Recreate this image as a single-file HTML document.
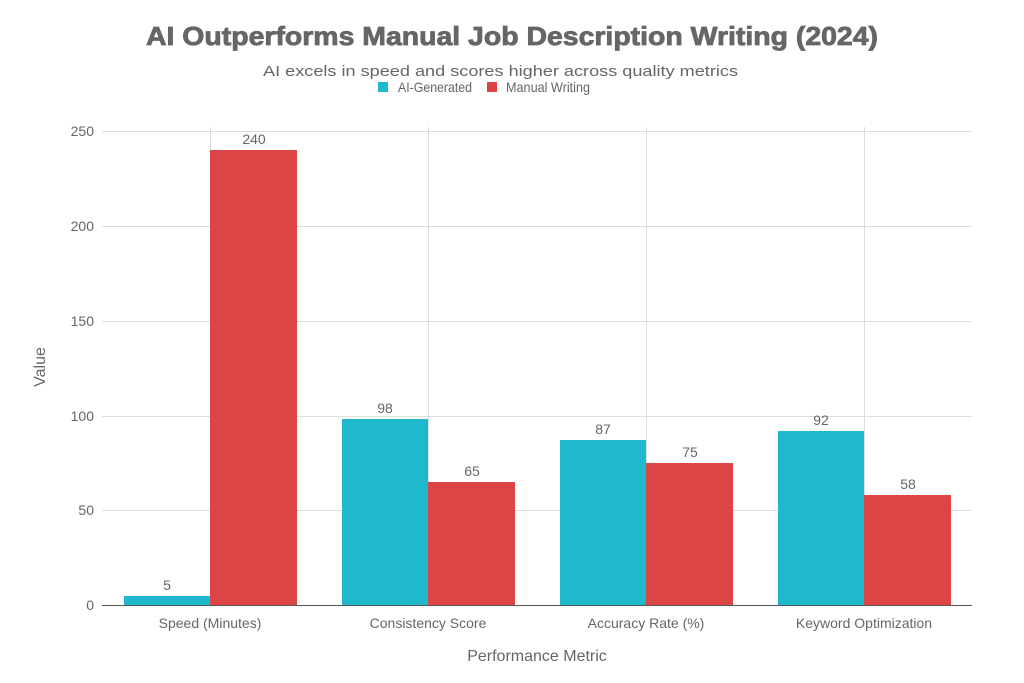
<!DOCTYPE html>
<html><head><style>body{margin:0;background:#fff}svg{display:block}text{font-family:"Liberation Sans",sans-serif}</style></head><body>
<svg width="1024" height="683" viewBox="0 0 1024 683" xmlns="http://www.w3.org/2000/svg">
<rect width="1024" height="683" fill="#fff"/>
<text x="146" y="45" font-size="26" font-weight="bold" fill="#666" stroke="#666" stroke-width="0.8" textLength="732" lengthAdjust="spacingAndGlyphs">AI Outperforms Manual Job Description Writing (2024)</text>
<text x="263" y="76" font-size="15" fill="#666" textLength="475" lengthAdjust="spacingAndGlyphs">AI excels in speed and scores higher across quality metrics</text>
<rect x="378" y="82" width="10" height="10" fill="#1fb8cd"/>
<text x="398" y="92" font-size="14" fill="#666" textLength="74" lengthAdjust="spacingAndGlyphs">AI-Generated</text>
<rect x="487" y="82" width="10" height="10" fill="#db4545"/>
<text x="506" y="92" font-size="14" fill="#666" textLength="84" lengthAdjust="spacingAndGlyphs">Manual Writing</text>
<g stroke="#ddd" stroke-width="1">
<line x1="102" x2="972" y1="131.5" y2="131.5"/>
<line x1="102" x2="972" y1="226.5" y2="226.5"/>
<line x1="102" x2="972" y1="321.5" y2="321.5"/>
<line x1="102" x2="972" y1="416.5" y2="416.5"/>
<line x1="102" x2="972" y1="510.5" y2="510.5"/>
<line x1="210.5" x2="210.5" y1="127" y2="605"/>
<line x1="428.5" x2="428.5" y1="127" y2="605"/>
<line x1="646.5" x2="646.5" y1="127" y2="605"/>
<line x1="864.5" x2="864.5" y1="127" y2="605"/>
</g>
<g fill="#1fb8cd">
<rect x="124" y="596" width="86" height="9.5"/>
<rect x="342" y="419" width="86" height="186"/>
<rect x="560" y="440" width="86" height="165"/>
<rect x="778" y="431" width="86" height="174"/>
</g>
<g fill="#db4545">
<rect x="210" y="150" width="87" height="455"/>
<rect x="428" y="482" width="87" height="123"/>
<rect x="646" y="463" width="87" height="142"/>
<rect x="864" y="495" width="87" height="110"/>
</g>
<line x1="102" x2="972" y1="605.5" y2="605.5" stroke="#555" stroke-width="1"/>
<g font-size="14" fill="#666" text-anchor="middle">
<text x="167" y="590">5</text><text x="254" y="144">240</text>
<text x="385" y="413">98</text><text x="472" y="476">65</text>
<text x="603" y="434">87</text><text x="690" y="457">75</text>
<text x="821" y="425">92</text><text x="908" y="489">58</text>
<text x="210" y="628">Speed (Minutes)</text>
<text x="428" y="628">Consistency Score</text>
<text x="646" y="628">Accuracy Rate (%)</text>
<text x="864" y="628">Keyword Optimization</text>
</g>
<g font-size="14" fill="#666" text-anchor="end">
<text x="94" y="136">250</text><text x="94" y="231">200</text><text x="94" y="326">150</text>
<text x="94" y="421">100</text><text x="94" y="515">50</text><text x="94" y="610">0</text>
</g>
<text x="537" y="661" text-anchor="middle" font-size="16" fill="#666">Performance Metric</text>
<text transform="translate(45,367) rotate(-90)" text-anchor="middle" font-size="16" fill="#666">Value</text>
</svg>
</body></html>
